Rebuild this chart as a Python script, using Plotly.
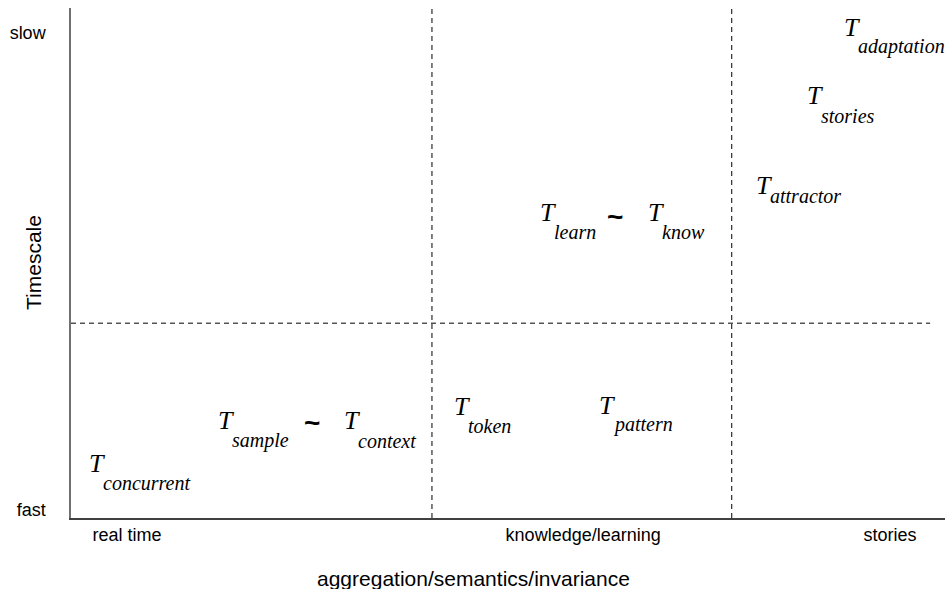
import plotly.graph_objects as go

# ---- data (axis units: x 0..100 along aggregation, y 0..100 fast->slow) ----
subscripts = ["concurrent", "sample", "context", "token", "pattern",
              "learn", "know", "attractor", "stories", "adaptation"]
label_x = [1.8, 16.6, 31.0, 43.6, 60.2, 53.4, 65.8, 78.1, 84.0, 88.2]
label_y = [9.2, 17.6, 17.6, 20.4, 20.6, 58.4, 58.4, 63.7, 81.2, 94.7]

tilde_x = [27.6, 62.2]
tilde_y = [18.8, 59.2]

region_bounds_x = [41.3, 75.6]
region_bound_y = 38.2
h_line_end_x = 98.3

x_tick_vals = [6.4, 58.6, 93.7]
x_tick_text = ["real time", "knowledge/learning", "stories"]
y_tick_vals = [1.6, 95.1]
y_tick_text = ["fast", "slow"]

x_title = "aggregation/semantics/invariance"
y_title = "Timescale"

# ---- styles ----
SERIF = "Liberation Serif, Times New Roman, serif"
SANS = "Liberation Sans, Arial, Helvetica, sans-serif"
T_SIZE = 26
SUB_SIZE = 20
sub_drop = {"attractor": 9}
DEFAULT_DROP = 18
BASE_NUDGE = 2

fig = go.Figure()
fig.add_trace(go.Scatter(x=[0, 100], y=[0, 100], mode="markers",
                         marker=dict(opacity=0), hoverinfo="skip",
                         showlegend=False))

annotations = []
for name, x, y in zip(subscripts, label_x, label_y):
    annotations.append(dict(
        x=x, y=y, xref="x", yref="y", text="<i>T</i>", showarrow=False,
        xanchor="left", yanchor="bottom",
        yshift=-(1 + 0.216 * T_SIZE) - BASE_NUDGE,
        font=dict(family=SERIF, size=T_SIZE, color="black")))
    annotations.append(dict(
        x=x, y=y, xref="x", yref="y", text="<i>%s</i>" % name, showarrow=False,
        xanchor="left", yanchor="bottom", xshift=14,
        yshift=-(1 + 0.216 * SUB_SIZE) - BASE_NUDGE
               - sub_drop.get(name, DEFAULT_DROP),
        font=dict(family=SERIF, size=SUB_SIZE, color="black")))

for x, y in zip(tilde_x, tilde_y):
    annotations.append(dict(
        x=x, y=y, xref="x", yref="y", text="<b>~</b>", showarrow=False,
        xanchor="center", yanchor="middle",
        font=dict(family=SANS, size=28, color="black")))

annotations.append(dict(
    x=(473 - 71) / 874, y=(518 - 578) / 510, xref="paper", yref="paper",
    text=x_title, showarrow=False, xanchor="center", yanchor="middle",
    font=dict(family=SANS, size=21, color="black")))
annotations.append(dict(
    x=(33 - 71) / 874, y=0.5, xref="paper", yref="paper",
    text=y_title, showarrow=False, xanchor="center", yanchor="middle",
    textangle=-90, font=dict(family=SANS, size=21, color="black")))

shapes = []
for bx in region_bounds_x:
    shapes.append(dict(type="line", xref="x", yref="y", x0=bx, x1=bx,
                       y0=0, y1=100, line=dict(color="black", width=1,
                                               dash="5px,4px")))
shapes.append(dict(type="line", xref="x", yref="y", x0=0, x1=h_line_end_x,
                   y0=region_bound_y, y1=region_bound_y,
                   line=dict(color="black", width=1, dash="5px,4px")))

fig.update_layout(
    width=947, height=589,
    margin=dict(l=71, r=2, t=8, b=71),
    paper_bgcolor="white", plot_bgcolor="white",
    annotations=annotations, shapes=shapes,
    xaxis=dict(range=[0, 100], showgrid=False, zeroline=False,
               showline=True, linecolor="#404040", linewidth=1.5,
               tickvals=x_tick_vals, ticktext=x_tick_text, ticks="",
               tickfont=dict(family=SANS, size=18, color="black"),
               fixedrange=True),
    yaxis=dict(range=[0, 100], showgrid=False, zeroline=False,
               showline=True, linecolor="#707070", linewidth=1.5,
               tickvals=y_tick_vals, ticktext=y_tick_text, ticks="",
               ticklabelstandoff=20,
               tickfont=dict(family=SANS, size=18, color="black"),
               fixedrange=True),
)

# remove the default page margin so the figure sits at the window's corner
fig.write_html("out.html", config=dict(displayModeBar=False),
               post_script="document.body.style.margin='0';"
                           "document.body.style.overflow='hidden';")
